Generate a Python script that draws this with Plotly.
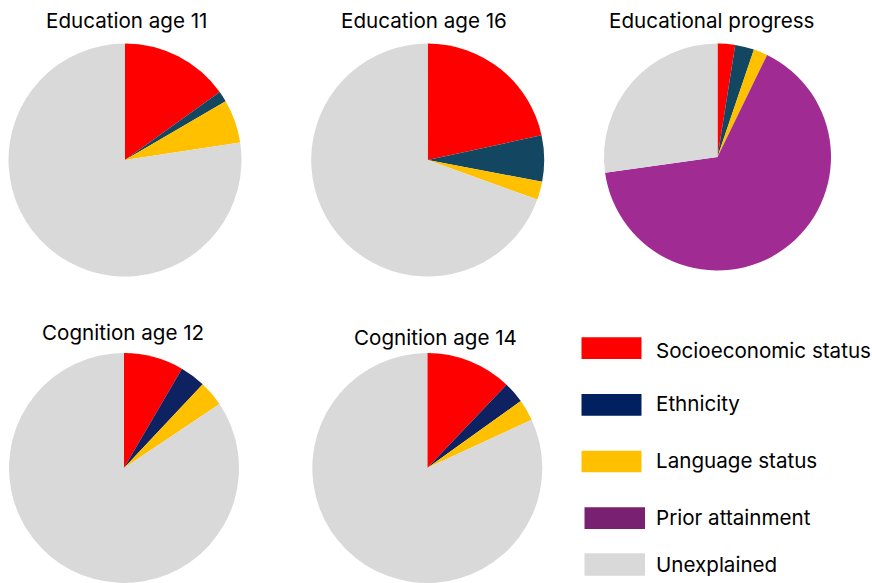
import plotly.graph_objects as go

W, H = 872, 583

components = ["Socioeconomic status", "Ethnicity", "Language status",
              "Prior attainment", "Unexplained"]

# Share of variance (%) attributed to each component, per outcome
edu11 = [15.1, 1.5, 6.0, 0.0, 77.4]
edu16 = [21.6, 6.4, 2.5, 0.0, 69.5]
progress = [2.5, 2.7, 2.0, 65.6, 27.2]
cog12 = [8.4, 3.6, 3.6, 0.0, 84.4]
cog14 = [12.1, 3.0, 3.0, 0.0, 81.9]

titles = ["Education age 11", "Education age 16", "Educational progress",
          "Cognition age 12", "Cognition age 14"]

edu_colors = ["#FF0000", "#134660", "#FFC000", "#A02B93", "#D9D9D9"]
cog_colors = ["#FF0000", "#0E2160", "#FFC000", "#A02B93", "#D9D9D9"]
legend_colors = ["#FF0000", "#002060", "#FFC000", "#782170", "#D9D9D9"]

# pixel layout: (centre x, centre y, radius) for each pie
pies = [
    (edu11, edu_colors, (125.0, 160.0, 116.5)),
    (edu16, edu_colors, (427.7, 160.0, 116.5)),
    (progress, edu_colors, (717.5, 157.0, 113.5)),
    (cog12, cog_colors, (124.0, 468.0, 115.0)),
    (cog14, cog_colors, (427.3, 468.0, 115.0)),
]

title_pos = [(126, 20), (424, 20), (711, 20), (123, 332), (435, 337)]

fig = go.Figure()
for vals, cols, (cx, cy, r) in pies:
    fig.add_trace(go.Pie(
        labels=components, values=vals,
        marker=dict(colors=cols, line=dict(width=0)),
        sort=False, direction="clockwise", rotation=0,
        textinfo="none", hoverinfo="label+percent",
        showlegend=False,
        domain=dict(x=[(cx - r) / W, (cx + r) / W],
                    y=[max(0, 1 - (cy + r) / H), min(1, 1 - (cy - r) / H)]),
    ))

font_family = "Inter, Lato, sans-serif"
font_size = 20.6
annotations = []
for t, (x, y) in zip(titles, title_pos):
    annotations.append(dict(text=t, x=x / W, y=1 - y / H, xref="paper", yref="paper",
                            xanchor="center", yanchor="middle", showarrow=False,
                            font=dict(family=font_family, size=font_size, color="#000000")))

# legend swatches and labels
leg_rows = [(337.3, 359.0, 581.5, 641.5, 350.0),
            (394.0, 415.7, 581.5, 641.5, 403.7),
            (450.7, 472.3, 581.5, 641.5, 460.3),
            (507.3, 529.0, 584.5, 645.0, 517.0),
            (553.3, 575.7, 584.5, 645.0, 564.8)]
shapes = []
for name, col, (y0, y1, x0, x1, ty) in zip(components, legend_colors, leg_rows):
    shapes.append(dict(type="rect", xref="paper", yref="paper",
                       x0=x0 / W, x1=x1 / W, y0=1 - y1 / H, y1=1 - y0 / H,
                       fillcolor=col, line=dict(width=0)))
    annotations.append(dict(text=name, x=654 / W, y=1 - ty / H, xref="paper", yref="paper",
                            xanchor="left", yanchor="middle", showarrow=False,
                            font=dict(family=font_family, size=font_size, color="#000000")))

fig.update_layout(width=W, height=H, margin=dict(l=0, r=0, t=0, b=0),
                  paper_bgcolor="white", plot_bgcolor="white",
                  annotations=annotations, shapes=shapes)

fig.write_html("out.html")
